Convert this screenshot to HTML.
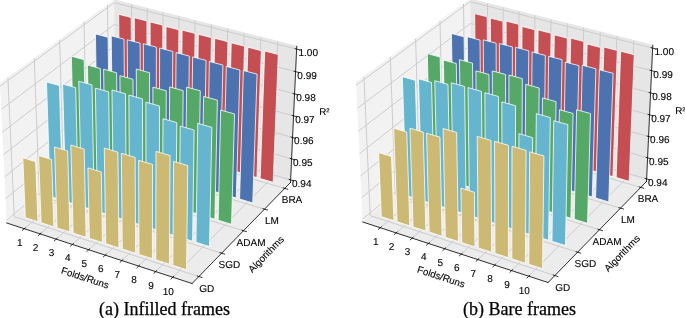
<!DOCTYPE html>
<html><head><meta charset="utf-8"><style>
html,body{margin:0;padding:0;background:#fff;width:685px;height:318px;overflow:hidden;position:relative}
.cap{position:absolute;will-change:transform;font-family:"Liberation Serif",serif;font-size:18px;color:#000;white-space:nowrap;line-height:1;-webkit-text-stroke:0.25px #000}
svg text{stroke:#000;stroke-width:0.12px}
</style></head><body>
<svg style="position:absolute;will-change:transform;text-rendering:geometricPrecision;left:-145.70px;top:-76.80px" width="571.294109" height="428.470582" viewBox="0 0 571.294109 428.470582" version="1.1">
 
 <defs>
  <style type="text/css">*{stroke-linejoin: round; stroke-linecap: butt}</style>
 </defs>
 <g id="afigure_1">
  <g id="apatch_1">
   <path d="M 0 428.470582 
L 571.294109 428.470582 
L 571.294109 0 
L 0 0 
L 0 428.470582 
z
" style="fill: none; opacity: 0"/>
  </g>
  <g id="apatch_2">
   <path d="M 127.827057 381.338818 
L 457.749405 381.338818 
L 457.749405 51.41647 
L 127.827057 51.41647 
L 127.827057 381.338818 
z
" style="fill: none; opacity: 0"/>
  </g>
  <g id="apane3d_1">
   <g id="apatch_3">
    <path d="M 152.738469 299.99054 
L 261.689603 208.665539 
L 260.175078 76.958562 
L 146.010071 160.270984 
" style="fill: #f2f2f2; stroke: #f2f2f2; stroke-linejoin: miter"/>
   </g>
  </g>
  <g id="apane3d_2">
   <g id="apatch_4">
    <path d="M 261.689603 208.665539 
L 436.517299 259.481048 
L 442.756284 123.237575 
L 260.175078 76.958562 
" style="fill: #e6e6e6; stroke: #e6e6e6; stroke-linejoin: miter"/>
   </g>
  </g>
  <g id="apane3d_3">
   <g id="apatch_5">
    <path d="M 152.738469 299.99054 
L 338.064366 360.517977 
L 436.517299 259.481048 
L 261.689603 208.665539 
" style="fill: #ececec; stroke: #ececec; stroke-linejoin: miter"/>
   </g>
  </g>
  <g id="agrid3d_1">
   <g id="aLine3DCollection_1">
    <path d="M 170.277975 305.718942 
L 278.3018 213.494049 
L 277.4909 81.347618 
" style="fill: none; stroke: #cccccc"/>
    <path d="M 186.168072 310.908648 
L 293.33979 217.864999 
L 293.171825 85.322275 
" style="fill: none; stroke: #cccccc"/>
    <path d="M 202.205661 316.146525 
L 308.505806 222.273161 
L 308.992014 89.332232 
" style="fill: none; stroke: #cccccc"/>
    <path d="M 218.392805 321.433246 
L 323.801489 226.719012 
L 324.953331 93.377961 
" style="fill: none; stroke: #cccccc"/>
    <path d="M 234.731604 326.769497 
L 339.228511 231.203038 
L 341.057673 97.459942 
" style="fill: none; stroke: #cccccc"/>
    <path d="M 251.2242 332.155979 
L 354.788568 235.725732 
L 357.306971 101.578665 
" style="fill: none; stroke: #cccccc"/>
    <path d="M 267.872776 337.593404 
L 370.483391 240.287598 
L 373.70319 105.734629 
" style="fill: none; stroke: #cccccc"/>
    <path d="M 284.679554 343.082498 
L 386.314737 244.889145 
L 390.248333 109.92834 
" style="fill: none; stroke: #cccccc"/>
    <path d="M 301.6468 348.624 
L 402.284396 249.530895 
L 406.944437 114.160316 
" style="fill: none; stroke: #cccccc"/>
    <path d="M 318.776823 354.218666 
L 418.394188 254.213375 
L 423.793579 118.431082 
" style="fill: none; stroke: #cccccc"/>
   </g>
  </g>
  <g id="agrid3d_2">
   <g id="aLine3DCollection_2">
    <path d="M 153.904864 154.509724 
L 160.246123 293.697475 
L 344.876547 353.527004 
" style="fill: none; stroke: #cccccc"/>
    <path d="M 180.280541 135.261956 
L 185.356977 272.649059 
L 367.631109 330.175225 
" style="fill: none; stroke: #cccccc"/>
    <path d="M 205.632131 116.76152 
L 209.534382 252.38308 
L 389.496058 307.736409 
" style="fill: none; stroke: #cccccc"/>
    <path d="M 230.018141 98.965721 
L 232.829436 232.856704 
L 410.522564 286.158042 
" style="fill: none; stroke: #cccccc"/>
    <path d="M 253.492705 81.835054 
L 255.289575 214.030169 
L 430.757946 265.391562 
" style="fill: none; stroke: #cccccc"/>
   </g>
  </g>
  <g id="agrid3d_3">
   <g id="aLine3DCollection_3">
    <path d="M 436.636832 256.870774 
L 261.660527 206.136949 
L 152.609774 297.318091 
" style="fill: none; stroke: #cccccc"/>
    <path d="M 437.600525 235.826161 
L 261.426189 185.758368 
L 151.571897 275.76591 
" style="fill: none; stroke: #cccccc"/>
    <path d="M 438.577637 214.488533 
L 261.188745 165.109619 
L 150.519018 253.902188 
" style="fill: none; stroke: #cccccc"/>
    <path d="M 439.56845 192.851727 
L 260.948132 144.185294 
L 149.450808 231.720121 
" style="fill: none; stroke: #cccccc"/>
    <path d="M 440.573252 170.909405 
L 260.704286 122.979838 
L 148.36693 209.212704 
" style="fill: none; stroke: #cccccc"/>
    <path d="M 441.592344 148.655052 
L 260.457142 101.487548 
L 147.267038 186.372726 
" style="fill: none; stroke: #cccccc"/>
    <path d="M 442.626031 126.081964 
L 260.206632 79.702563 
L 146.150773 163.192763 
" style="fill: none; stroke: #cccccc"/>
   </g>
  </g>
  <g id="aaxis3d_1">
   <g id="aline2d_1">
    <path d="M 152.738469 299.99054 
L 338.064366 360.517977 
" style="fill: none; stroke: #000000; stroke-width: 0.8; stroke-linecap: square"/>
   </g>
   <g id="axtick_1">
    <g id="aline2d_2">
     <path d="M 171.218781 304.915733 
L 168.392318 307.328814 
" style="fill: none; stroke: #000000; stroke-width: 0.8; stroke-linecap: square"/>
    </g>
    <g id="axtl0">
     <text style="font-size: 10px; font-family: 'Liberation Sans'; text-anchor: middle" x="165.706827" y="322.53215" transform="rotate(-0 165.706827 322.53215)">1</text>
    </g>
   </g>
   <g id="axtick_2">
    <g id="aline2d_3">
     <path d="M 187.101808 310.098004 
L 184.296569 312.533438 
" style="fill: none; stroke: #000000; stroke-width: 0.8; stroke-linecap: square"/>
    </g>
    <g id="axtl1">
     <text style="font-size: 10px; font-family: 'Liberation Sans'; text-anchor: middle" x="181.604902" y="327.775644" transform="rotate(-0 181.604902 327.775644)">2</text>
    </g>
   </g>
   <g id="axtick_3">
    <g id="aline2d_4">
     <path d="M 203.132155 315.328341 
L 200.348655 317.786442 
" style="fill: none; stroke: #000000; stroke-width: 0.8; stroke-linecap: square"/>
    </g>
    <g id="axtl2">
     <text style="font-size: 10px; font-family: 'Liberation Sans'; text-anchor: middle" x="197.650815" y="333.067898" transform="rotate(-0 197.650815 333.067898)">3</text>
    </g>
   </g>
   <g id="axtick_4">
    <g id="aline2d_5">
     <path d="M 219.31188 320.607417 
L 216.550648 323.088502 
" style="fill: none; stroke: #000000; stroke-width: 0.8; stroke-linecap: square"/>
    </g>
    <g id="axtl3">
     <text style="font-size: 10px; font-family: 'Liberation Sans'; text-anchor: middle" x="213.846636" y="338.409594" transform="rotate(-0 213.846636 338.409594)">4</text>
    </g>
   </g>
   <g id="axtick_5">
    <g id="aline2d_6">
     <path d="M 235.643081 325.935917 
L 232.904658 328.44031 
" style="fill: none; stroke: #000000; stroke-width: 0.8; stroke-linecap: square"/>
    </g>
    <g id="axtl4">
     <text style="font-size: 10px; font-family: 'Liberation Sans'; text-anchor: middle" x="230.194477" y="343.801429" transform="rotate(-0 230.194477 343.801429)">5</text>
    </g>
   </g>
   <g id="axtick_6">
    <g id="aline2d_7">
     <path d="M 252.127895 331.314536 
L 249.412834 333.842568 
" style="fill: none; stroke: #000000; stroke-width: 0.8; stroke-linecap: square"/>
    </g>
    <g id="axtl5">
     <text style="font-size: 10px; font-family: 'Liberation Sans'; text-anchor: middle" x="246.696487" y="349.244112" transform="rotate(-0 246.696487 349.244112)">6</text>
    </g>
   </g>
   <g id="axtick_7">
    <g id="aline2d_8">
     <path d="M 268.7685 336.743987 
L 266.077367 339.295993 
" style="fill: none; stroke: #000000; stroke-width: 0.8; stroke-linecap: square"/>
    </g>
    <g id="axtl6">
     <text style="font-size: 10px; font-family: 'Liberation Sans'; text-anchor: middle" x="263.354859" y="354.738366" transform="rotate(-0 263.354859 354.738366)">7</text>
    </g>
   </g>
   <g id="axtick_8">
    <g id="aline2d_9">
     <path d="M 285.567115 342.224993 
L 282.900488 344.801316 
" style="fill: none; stroke: #000000; stroke-width: 0.8; stroke-linecap: square"/>
    </g>
    <g id="axtl7">
     <text style="font-size: 10px; font-family: 'Liberation Sans'; text-anchor: middle" x="280.171825" y="360.284928" transform="rotate(-0 280.171825 360.284928)">8</text>
    </g>
   </g>
   <g id="axtick_9">
    <g id="aline2d_10">
     <path d="M 302.526001 347.758292 
L 299.884473 350.359281 
" style="fill: none; stroke: #000000; stroke-width: 0.8; stroke-linecap: square"/>
    </g>
    <g id="axtl8">
     <text style="font-size: 10px; font-family: 'Liberation Sans'; text-anchor: middle" x="297.14966" y="365.884547" transform="rotate(-0 297.14966 365.884547)">9</text>
    </g>
   </g>
   <g id="axtick_10">
    <g id="aline2d_11">
     <path d="M 319.647463 353.344636 
L 317.031639 355.970646 
" style="fill: none; stroke: #000000; stroke-width: 0.8; stroke-linecap: square"/>
    </g>
    <g id="axtl9">
     <text style="font-size: 10px; font-family: 'Liberation Sans'; text-anchor: middle" x="314.290684" y="371.53799" transform="rotate(-0 314.290684 371.53799)">10</text>
    </g>
   </g>
   <g id="axlab">
    <text style="font-size: 9.8px; font-family: 'Liberation Sans'; text-anchor: middle" x="230.091044" y="358.020936" transform="rotate(-341.912962 230.091044 358.020936)">Folds/Runs</text>
   </g>
  </g>
  <g id="aaxis3d_2">
   <g id="aline2d_12">
    <path d="M 436.517299 259.481048 
L 338.064366 360.517977 
" style="fill: none; stroke: #000000; stroke-width: 0.8; stroke-linecap: square"/>
   </g>
   <g id="axtick_11">
    <g id="aline2d_13">
     <path d="M 343.320661 353.022819 
L 347.992343 354.536678 
" style="fill: none; stroke: #000000; stroke-width: 0.8; stroke-linecap: square"/>
    </g>
    <g id="aytl0">
     <text style="font-size: 10px; font-family: 'Liberation Sans'; text-anchor: middle" x="352.714544" y="368.942089" transform="rotate(-0 352.714544 368.942089)">GD</text>
    </g>
   </g>
   <g id="axtick_12">
    <g id="aline2d_14">
     <path d="M 366.096631 329.69094 
L 370.703955 331.145023 
" style="fill: none; stroke: #000000; stroke-width: 0.8; stroke-linecap: square"/>
    </g>
    <g id="aytl1">
     <text style="font-size: 10px; font-family: 'Liberation Sans'; text-anchor: middle" x="375.319343" y="345.420682" transform="rotate(-0 375.319343 345.420682)">SGD</text>
    </g>
   </g>
   <g id="axtick_13">
    <g id="aline2d_15">
     <path d="M 387.982519 307.270869 
L 392.526897 308.668647 
" style="fill: none; stroke: #000000; stroke-width: 0.8; stroke-linecap: square"/>
    </g>
    <g id="aytl2">
     <text style="font-size: 10px; font-family: 'Liberation Sans'; text-anchor: middle" x="397.040134" y="322.819129" transform="rotate(-0 397.040134 322.819129)">ADAM</text>
    </g>
   </g>
   <g id="axtick_14">
    <g id="aline2d_16">
     <path d="M 409.029501 285.710179 
L 413.512328 287.05486 
" style="fill: none; stroke: #000000; stroke-width: 0.8; stroke-linecap: square"/>
    </g>
    <g id="aytl3">
     <text style="font-size: 10px; font-family: 'Liberation Sans'; text-anchor: middle" x="417.927779" y="301.084504" transform="rotate(-0 417.927779 301.084504)">LM</text>
    </g>
   </g>
   <g id="axtick_15">
    <g id="aline2d_17">
     <path d="M 429.284905 264.960388 
L 433.70755 266.254941 
" style="fill: none; stroke: #000000; stroke-width: 0.8; stroke-linecap: square"/>
    </g>
    <g id="aytl4">
     <text style="font-size: 10px; font-family: 'Liberation Sans'; text-anchor: middle" x="438.029312" y="280.167869" transform="rotate(-0 438.029312 280.167869)">BRA</text>
    </g>
   </g>
   <g id="aylab">
    <text style="font-size: 9.8px; font-family: 'Liberation Sans'; text-anchor: middle" x="414.495733" y="333.586335" transform="rotate(-45.742112 414.495733 333.586335)">Algorithms</text>
   </g>
  </g>
  <g id="aaxis3d_3">
   <g id="aline2d_18">
    <path d="M 436.517299 259.481048 
L 442.756284 123.237575 
" style="fill: none; stroke: #000000; stroke-width: 0.8; stroke-linecap: square"/>
   </g>
   <g id="axtick_16">
    <g id="aline2d_19">
     <path d="M 435.168239 256.44496 
L 439.577512 257.723415 
" style="fill: none; stroke: #000000; stroke-width: 0.8; stroke-linecap: square"/>
    </g>
    <g id="aztl0" transform="translate(0 1.2)">
     <text style="font-size: 10px; font-family: 'Liberation Sans'; text-anchor: middle" x="447.771035" y="262.532065" transform="rotate(-0 447.771035 262.532065)">0.94</text>
    </g>
   </g>
   <g id="axtick_17">
    <g id="aline2d_20">
     <path d="M 436.1214 235.405802 
L 440.562323 236.667888 
" style="fill: none; stroke: #000000; stroke-width: 0.8; stroke-linecap: square"/>
    </g>
    <g id="aztl1" transform="translate(0 1.2)">
     <text style="font-size: 10px; font-family: 'Liberation Sans'; text-anchor: middle" x="448.810161" y="241.507773" transform="rotate(-0 448.810161 241.507773)">0.95</text>
    </g>
   </g>
   <g id="axtick_18">
    <g id="aline2d_21">
     <path d="M 437.087826 214.073821 
L 441.560857 215.318958 
" style="fill: none; stroke: #000000; stroke-width: 0.8; stroke-linecap: square"/>
    </g>
    <g id="aztl2" transform="translate(0 1.2)">
     <text style="font-size: 10px; font-family: 'Liberation Sans'; text-anchor: middle" x="449.863733" y="220.191187" transform="rotate(-0 449.863733 220.191187)">0.96</text>
    </g>
   </g>
   <g id="axtick_19">
    <g id="aline2d_22">
     <path d="M 438.067797 192.442863 
L 442.573402 193.670448 
" style="fill: none; stroke: #000000; stroke-width: 0.8; stroke-linecap: square"/>
    </g>
    <g id="aztl3" transform="translate(0 1.2)">
     <text style="font-size: 10px; font-family: 'Liberation Sans'; text-anchor: middle" x="450.932056" y="198.576167" transform="rotate(-0 450.932056 198.576167)">0.97</text>
    </g>
   </g>
   <g id="axtick_20">
    <g id="aline2d_23">
     <path d="M 439.0616 170.506596 
L 443.600257 171.71601 
" style="fill: none; stroke: #000000; stroke-width: 0.8; stroke-linecap: square"/>
    </g>
    <g id="aztl4" transform="translate(0 1.2)">
     <text style="font-size: 10px; font-family: 'Liberation Sans'; text-anchor: middle" x="452.01544" y="176.656403" transform="rotate(-0 452.01544 176.656403)">0.98</text>
    </g>
   </g>
   <g id="axtick_21">
    <g id="aline2d_24">
     <path d="M 440.069529 148.258512 
L 444.641727 149.44911 
" style="fill: none; stroke: #000000; stroke-width: 0.8; stroke-linecap: square"/>
    </g>
    <g id="aztl5" transform="translate(0 1.2)">
     <text style="font-size: 10px; font-family: 'Liberation Sans'; text-anchor: middle" x="453.114207" y="154.425405" transform="rotate(-0 453.114207 154.425405)">0.99</text>
    </g>
   </g>
   <g id="axtick_22">
    <g id="aline2d_25">
     <path d="M 441.091888 125.691914 
L 445.698125 126.863031 
" style="fill: none; stroke: #000000; stroke-width: 0.8; stroke-linecap: square"/>
    </g>
    <g id="aztl6" transform="translate(0 1.2)">
     <text style="font-size: 10px; font-family: 'Liberation Sans'; text-anchor: middle" x="454.228687" y="131.876495" transform="rotate(-0 454.228687 131.876495)">1.00</text>
    </g>
   </g>
   <g id="azlab" transform="translate(0 1.0)">
    <text style="font-size: 9.8px; font-family: 'Liberation Sans'; text-anchor: middle" x="470.33307" y="191.264268" transform="rotate(-0 470.33307 191.264268)">R²</text>
   </g>
  </g>
  <g id="aaxes_1">
   <g id="apatch_6">
    <path d="M 265.932633 214.610533 
L 277.96352 218.123471 
L 277.190281 94.510612 
L 264.681394 91.293279 
L 265.932633 214.610533 
" clip-path="url(#apff52f24044)" style="fill: #c44e52; stroke: #ffffff; stroke-width: 0.8; stroke-linejoin: miter"/>
   </g>
   <g id="apatch_7">
    <path d="M 280.984046 219.005444 
L 293.117765 222.548408 
L 292.950633 97.944348 
L 280.328087 94.699978 
L 280.984046 219.005444 
" clip-path="url(#apff52f24044)" style="fill: #c44e52; stroke: #ffffff; stroke-width: 0.8; stroke-linejoin: miter"/>
   </g>
   <g id="apatch_8">
    <path d="M 296.164165 223.437936 
L 308.402041 227.011313 
L 308.855131 102.165722 
L 296.120355 98.892031 
L 296.164165 223.437936 
" clip-path="url(#apff52f24044)" style="fill: #c44e52; stroke: #ffffff; stroke-width: 0.8; stroke-linejoin: miter"/>
   </g>
   <g id="apatch_9">
    <path d="M 311.474647 227.908493 
L 323.818026 231.512677 
L 324.897658 106.803458 
L 312.050684 103.499089 
L 311.474647 227.908493 
" clip-path="url(#apff52f24044)" style="fill: #c44e52; stroke: #ffffff; stroke-width: 0.8; stroke-linejoin: miter"/>
   </g>
   <g id="apatch_10">
    <path d="M 326.917178 232.417608 
L 339.367432 236.052998 
L 341.093941 110.430815 
L 328.128991 107.098035 
L 326.917178 232.417608 
" clip-path="url(#apff52f24044)" style="fill: #c44e52; stroke: #ffffff; stroke-width: 0.8; stroke-linejoin: miter"/>
   </g>
   <g id="apatch_11">
    <path d="M 243.579321 233.521583 
L 255.753899 237.164634 
L 254.08912 114.245046 
L 241.433805 110.897833 
L 243.579321 233.521583 
" clip-path="url(#apff52f24044)" style="fill: #4c72b0; stroke: #ffffff; stroke-width: 0.8; stroke-linejoin: miter"/>
   </g>
   <g id="apatch_12">
    <path d="M 342.493476 236.965782 
L 355.051998 240.632785 
L 357.431706 114.653155 
L 344.349462 111.290142 
L 342.493476 236.965782 
" clip-path="url(#apff52f24044)" style="fill: #c44e52; stroke: #ffffff; stroke-width: 0.8; stroke-linejoin: miter"/>
   </g>
   <g id="apatch_13">
    <path d="M 258.81074 238.079345 
L 271.091302 241.75411 
L 270.017584 116.17555 
L 257.238582 112.803864 
L 258.81074 238.079345 
" clip-path="url(#apff52f24044)" style="fill: #4c72b0; stroke: #ffffff; stroke-width: 0.8; stroke-linejoin: miter"/>
   </g>
   <g id="apatch_14">
    <path d="M 358.205285 241.553524 
L 370.873493 245.252555 
L 373.923194 118.68876 
L 360.721106 115.295677 
L 358.205285 241.553524 
" clip-path="url(#apff52f24044)" style="fill: #c44e52; stroke: #ffffff; stroke-width: 0.8; stroke-linejoin: miter"/>
   </g>
   <g id="apatch_15">
    <path d="M 274.174811 242.676801 
L 286.562746 246.383695 
L 286.121372 120.199503 
L 273.225123 116.797697 
L 274.174811 242.676801 
" clip-path="url(#apff52f24044)" style="fill: #4c72b0; stroke: #ffffff; stroke-width: 0.8; stroke-linejoin: miter"/>
   </g>
   <g id="apatch_16">
    <path d="M 374.054382 246.181353 
L 386.833719 249.912833 
L 390.553499 123.235917 
L 377.231938 119.811135 
L 374.054382 246.181353 
" clip-path="url(#apff52f24044)" style="fill: #c44e52; stroke: #ffffff; stroke-width: 0.8; stroke-linejoin: miter"/>
   </g>
   <g id="apatch_17">
    <path d="M 289.673274 247.314472 
L 302.169996 251.053919 
L 302.374903 124.125246 
L 289.359223 120.693255 
L 289.673274 247.314472 
" clip-path="url(#apff52f24044)" style="fill: #4c72b0; stroke: #ffffff; stroke-width: 0.8; stroke-linejoin: miter"/>
   </g>
   <g id="apatch_18">
    <path d="M 390.042573 250.849797 
L 402.934509 254.614155 
L 407.339017 127.665484 
L 393.895674 124.208976 
L 390.042573 250.849797 
" clip-path="url(#apff52f24044)" style="fill: #c44e52; stroke: #ffffff; stroke-width: 0.8; stroke-linejoin: miter"/>
   </g>
   <g id="apatch_19">
    <path d="M 220.391743 253.138426 
L 232.712451 256.918955 
L 230.163346 136.685596 
L 217.36707 133.195909 
L 220.391743 253.138426 
" clip-path="url(#apff52f24044)" style="fill: #55a868; stroke: #ffffff; stroke-width: 0.8; stroke-linejoin: miter"/>
   </g>
   <g id="apatch_20">
    <path d="M 305.3079 251.992887 
L 317.914849 255.765318 
L 318.778845 128.473368 
L 305.643653 125.009781 
L 305.3079 251.992887 
" clip-path="url(#apff52f24044)" style="fill: #4c72b0; stroke: #ffffff; stroke-width: 0.8; stroke-linejoin: miter"/>
   </g>
   <g id="apatch_21">
    <path d="M 235.806232 257.868262 
L 248.236213 261.682321 
L 246.363255 145.541029 
L 233.466868 142.007763 
L 235.806232 257.868262 
" clip-path="url(#apff52f24044)" style="fill: #55a868; stroke: #ffffff; stroke-width: 0.8; stroke-linejoin: miter"/>
   </g>
   <g id="apatch_22">
    <path d="M 406.171698 255.559392 
L 419.177727 259.357065 
L 424.304447 131.476567 
L 410.734741 127.989593 
L 406.171698 255.559392 
" clip-path="url(#apff52f24044)" style="fill: #c44e52; stroke: #ffffff; stroke-width: 0.8; stroke-linejoin: miter"/>
   </g>
   <g id="apatch_23">
    <path d="M 321.080492 256.712587 
L 333.799131 260.518439 
L 335.331184 133.088952 
L 322.075785 129.592745 
L 321.080492 256.712587 
" clip-path="url(#apff52f24044)" style="fill: #4c72b0; stroke: #ffffff; stroke-width: 0.8; stroke-linejoin: miter"/>
   </g>
   <g id="apatch_24">
    <path d="M 251.357495 262.640066 
L 263.898209 266.488102 
L 262.615398 149.767692 
L 249.598787 146.202321 
L 251.357495 262.640066 
" clip-path="url(#apff52f24044)" style="fill: #55a868; stroke: #ffffff; stroke-width: 0.8; stroke-linejoin: miter"/>
   </g>
   <g id="apatch_25">
    <path d="M 336.992883 261.474119 
L 349.824705 265.313839 
L 352.039848 137.427233 
L 338.661228 133.898779 
L 336.992883 261.474119 
" clip-path="url(#apff52f24044)" style="fill: #4c72b0; stroke: #ffffff; stroke-width: 0.8; stroke-linejoin: miter"/>
   </g>
   <g id="apatch_26">
    <path d="M 267.047359 267.454398 
L 279.700293 271.336869 
L 279.034051 156.307087 
L 265.904922 152.703341 
L 267.047359 267.454398 
" clip-path="url(#apff52f24044)" style="fill: #55a868; stroke: #ffffff; stroke-width: 0.8; stroke-linejoin: miter"/>
   </g>
   <g id="apatch_27">
    <path d="M 353.04694 266.278043 
L 365.993462 270.152085 
L 368.899138 142.057855 
L 355.396662 138.496052 
L 353.04694 266.278043 
" clip-path="url(#apff52f24044)" style="fill: #4c72b0; stroke: #ffffff; stroke-width: 0.8; stroke-linejoin: miter"/>
   </g>
   <g id="apatch_28">
    <path d="M 196.322308 273.501327 
L 208.791549 277.427265 
L 205.430716 162.55498 
L 192.501976 158.907825 
L 196.322308 273.501327 
" clip-path="url(#apff52f24044)" style="fill: #64b5cd; stroke: #ffffff; stroke-width: 0.8; stroke-linejoin: miter"/>
   </g>
   <g id="apatch_29">
    <path d="M 171.319733 294.65367 
L 183.939864 298.733572 
L 181.671741 238.639665 
L 168.808382 234.702383 
L 171.319733 294.65367 
" clip-path="url(#apff52f24044)" style="fill: #ccb974; stroke: #ffffff; stroke-width: 0.8; stroke-linejoin: miter"/>
   </g>
   <g id="apatch_30">
    <path d="M 369.244565 271.124926 
L 382.307331 275.033753 
L 385.906447 147.006709 
L 372.279608 143.410377 
L 369.244565 271.124926 
" clip-path="url(#apff52f24044)" style="fill: #4c72b0; stroke: #ffffff; stroke-width: 0.8; stroke-linejoin: miter"/>
   </g>
   <g id="apatch_31">
    <path d="M 282.877686 272.311831 
L 295.644352 276.2292 
L 295.57733 149.713909 
L 282.278885 146.10522 
L 282.877686 272.311831 
" clip-path="url(#apff52f24044)" style="fill: #55a868; stroke: #ffffff; stroke-width: 0.8; stroke-linejoin: miter"/>
   </g>
   <g id="apatch_32">
    <path d="M 298.85037 277.212946 
L 311.73231 281.165685 
L 312.276205 167.787299 
L 298.910361 164.109787 
L 298.85037 277.212946 
" clip-path="url(#apff52f24044)" style="fill: #55a868; stroke: #ffffff; stroke-width: 0.8; stroke-linejoin: miter"/>
   </g>
   <g id="apatch_33">
    <path d="M 211.922891 278.413168 
L 224.504844 282.374594 
L 221.668507 164.68076 
L 208.608406 161.005731 
L 211.922891 278.413168 
" clip-path="url(#apff52f24044)" style="fill: #64b5cd; stroke: #ffffff; stroke-width: 0.8; stroke-linejoin: miter"/>
   </g>
   <g id="apatch_34">
    <path d="M 385.587691 276.015349 
L 398.768275 279.959431 
L 403.098008 151.125611 
L 389.341181 147.496539 
L 385.587691 276.015349 
" clip-path="url(#apff52f24044)" style="fill: #4c72b0; stroke: #ffffff; stroke-width: 0.8; stroke-linejoin: miter"/>
   </g>
   <g id="apatch_35">
    <path d="M 187.109375 299.758228 
L 199.845813 303.87573 
L 197.657588 236.546369 
L 184.644299 232.589419 
L 187.109375 299.758228 
" clip-path="url(#apff52f24044)" style="fill: #ccb974; stroke: #ffffff; stroke-width: 0.8; stroke-linejoin: miter"/>
   </g>
   <g id="apatch_36">
    <path d="M 314.967341 282.158334 
L 327.966123 286.146925 
L 329.174051 167.607227 
L 315.661525 163.907491 
L 314.967341 282.158334 
" clip-path="url(#apff52f24044)" style="fill: #55a868; stroke: #ffffff; stroke-width: 0.8; stroke-linejoin: miter"/>
   </g>
   <g id="apatch_37">
    <path d="M 227.664554 283.369428 
L 240.360754 287.366825 
L 237.992206 161.897188 
L 224.778292 158.206669 
L 227.664554 283.369428 
" clip-path="url(#apff52f24044)" style="fill: #64b5cd; stroke: #ffffff; stroke-width: 0.8; stroke-linejoin: miter"/>
   </g>
   <g id="apatch_38">
    <path d="M 331.230563 287.148598 
L 344.347784 291.173531 
L 346.278324 167.817778 
L 332.618204 164.094527 
L 331.230563 287.148598 
" clip-path="url(#apff52f24044)" style="fill: #55a868; stroke: #ffffff; stroke-width: 0.8; stroke-linejoin: miter"/>
   </g>
   <g id="apatch_39">
    <path d="M 243.549221 288.370713 
L 256.36123 292.404572 
L 254.681947 168.841133 
L 241.352053 165.109587 
L 243.549221 288.370713 
" clip-path="url(#apff52f24044)" style="fill: #64b5cd; stroke: #ffffff; stroke-width: 0.8; stroke-linejoin: miter"/>
   </g>
   <g id="apatch_40">
    <path d="M 203.044601 304.909851 
L 215.89896 309.065475 
L 213.693661 227.961 
L 200.500499 224.000344 
L 203.044601 304.909851 
" clip-path="url(#apff52f24044)" style="fill: #ccb974; stroke: #ffffff; stroke-width: 0.8; stroke-linejoin: miter"/>
   </g>
   <g id="apatch_41">
    <path d="M 347.642035 292.184351 
L 360.879321 296.246126 
L 363.401319 177.16467 
L 349.631821 173.393869 
L 347.642035 292.184351 
" clip-path="url(#apff52f24044)" style="fill: #55a868; stroke: #ffffff; stroke-width: 0.8; stroke-linejoin: miter"/>
   </g>
   <g id="apatch_42">
    <path d="M 364.203794 297.266219 
L 377.5628 301.365343 
L 380.519768 190.936499 
L 366.659568 187.106365 
L 364.203794 297.266219 
" clip-path="url(#apff52f24044)" style="fill: #55a868; stroke: #ffffff; stroke-width: 0.8; stroke-linejoin: miter"/>
   </g>
   <g id="apatch_43">
    <path d="M 259.578847 293.417639 
L 272.508258 297.488462 
L 271.46438 170.758701 
L 257.995436 166.998806 
L 259.578847 293.417639 
" clip-path="url(#apff52f24044)" style="fill: #64b5cd; stroke: #ffffff; stroke-width: 0.8; stroke-linejoin: miter"/>
   </g>
   <g id="apatch_44">
    <path d="M 235.359932 315.356919 
L 248.4551 319.590394 
L 247.299055 248.955017 
L 233.899203 244.890758 
L 235.359932 315.356919 
" clip-path="url(#apff52f24044)" style="fill: #ccb974; stroke: #ffffff; stroke-width: 0.8; stroke-linejoin: miter"/>
   </g>
   <g id="apatch_45">
    <path d="M 219.127433 310.109193 
L 232.101359 314.303471 
L 230.176866 226.077825 
L 216.828472 222.096624 
L 219.127433 310.109193 
" clip-path="url(#apff52f24044)" style="fill: #ccb974; stroke: #ffffff; stroke-width: 0.8; stroke-linejoin: miter"/>
   </g>
   <g id="apatch_46">
    <path d="M 275.755428 298.510833 
L 288.803862 302.61913 
L 288.447012 175.895546 
L 274.850532 172.098536 
L 275.755428 298.510833 
" clip-path="url(#apff52f24044)" style="fill: #64b5cd; stroke: #ffffff; stroke-width: 0.8; stroke-linejoin: miter"/>
   </g>
   <g id="apatch_47">
    <path d="M 292.080992 303.650934 
L 305.2501 307.797226 
L 305.583699 183.043726 
L 291.866505 179.20394 
L 292.080992 303.650934 
" clip-path="url(#apff52f24044)" style="fill: #64b5cd; stroke: #ffffff; stroke-width: 0.8; stroke-linejoin: miter"/>
   </g>
   <g id="apatch_48">
    <path d="M 308.557608 308.838594 
L 321.849073 313.02341 
L 322.783009 199.604171 
L 308.985336 195.696742 
L 308.557608 308.838594 
" clip-path="url(#apff52f24044)" style="fill: #64b5cd; stroke: #ffffff; stroke-width: 0.8; stroke-linejoin: miter"/>
   </g>
   <g id="apatch_49">
    <path d="M 325.187382 314.074476 
L 338.602916 318.298355 
L 340.145537 207.048851 
L 326.225575 203.097043 
L 325.187382 314.074476 
" clip-path="url(#apff52f24044)" style="fill: #64b5cd; stroke: #ffffff; stroke-width: 0.8; stroke-linejoin: miter"/>
   </g>
   <g id="apatch_50">
    <path d="M 251.744197 320.65371 
L 264.962316 324.926932 
L 263.923201 229.144579 
L 250.285292 225.10404 
L 251.744197 320.65371 
" clip-path="url(#apff52f24044)" style="fill: #ccb974; stroke: #ffffff; stroke-width: 0.8; stroke-linejoin: miter"/>
   </g>
   <g id="apatch_51">
    <path d="M 268.282366 326.000256 
L 281.625175 330.313788 
L 281.120663 234.378825 
L 267.350561 230.298581 
L 268.282366 326.000256 
" clip-path="url(#apff52f24044)" style="fill: #ccb974; stroke: #ffffff; stroke-width: 0.8; stroke-linejoin: miter"/>
   </g>
   <g id="apatch_52">
    <path d="M 341.97246 319.359256 
L 355.513808 323.622747 
L 357.84772 204.370998 
L 343.757009 200.40064 
L 341.97246 319.359256 
" clip-path="url(#apff52f24044)" style="fill: #64b5cd; stroke: #ffffff; stroke-width: 0.8; stroke-linejoin: miter"/>
   </g>
   <g id="apatch_53">
    <path d="M 284.976618 331.39726 
L 298.44589 335.751677 
L 298.484038 241.432977 
L 284.587826 237.307929 
L 284.976618 331.39726 
" clip-path="url(#apff52f24044)" style="fill: #ccb974; stroke: #ffffff; stroke-width: 0.8; stroke-linejoin: miter"/>
   </g>
   <g id="apatch_54">
    <path d="M 301.829173 336.845442 
L 315.426714 341.241326 
L 316.094576 232.519329 
L 301.996854 228.390065 
L 301.829173 336.845442 
" clip-path="url(#apff52f24044)" style="fill: #ccb974; stroke: #ffffff; stroke-width: 0.8; stroke-linejoin: miter"/>
   </g>
   <g id="apatch_55">
    <path d="M 318.842293 342.345533 
L 332.569945 346.783479 
L 333.815892 242.587598 
L 319.601024 238.404779 
L 318.842293 342.345533 
" clip-path="url(#apff52f24044)" style="fill: #ccb974; stroke: #ffffff; stroke-width: 0.8; stroke-linejoin: miter"/>
   </g>
  </g>
 </g>
 <defs>
  <clipPath id="apff52f24044">
   <rect x="127.827057" y="51.41647" width="329.922348" height="329.922348"/>
  </clipPath>
 </defs>
</svg>

<svg style="position:absolute;will-change:transform;text-rendering:geometricPrecision;left:210.30px;top:-78.30px" width="571.294109" height="428.470582" viewBox="0 0 571.294109 428.470582" version="1.1">
 
 <defs>
  <style type="text/css">*{stroke-linejoin: round; stroke-linecap: butt}</style>
 </defs>
 <g id="bfigure_1">
  <g id="bpatch_1">
   <path d="M 0 428.470582 
L 571.294109 428.470582 
L 571.294109 0 
L 0 0 
L 0 428.470582 
z
" style="fill: none; opacity: 0"/>
  </g>
  <g id="bpatch_2">
   <path d="M 127.827057 381.338818 
L 457.749405 381.338818 
L 457.749405 51.41647 
L 127.827057 51.41647 
L 127.827057 381.338818 
z
" style="fill: none; opacity: 0"/>
  </g>
  <g id="bpane3d_1">
   <g id="bpatch_3">
    <path d="M 152.738469 299.99054 
L 261.689603 208.665539 
L 260.175078 76.958562 
L 146.010071 160.270984 
" style="fill: #f2f2f2; stroke: #f2f2f2; stroke-linejoin: miter"/>
   </g>
  </g>
  <g id="bpane3d_2">
   <g id="bpatch_4">
    <path d="M 261.689603 208.665539 
L 436.517299 259.481048 
L 442.756284 123.237575 
L 260.175078 76.958562 
" style="fill: #e6e6e6; stroke: #e6e6e6; stroke-linejoin: miter"/>
   </g>
  </g>
  <g id="bpane3d_3">
   <g id="bpatch_5">
    <path d="M 152.738469 299.99054 
L 338.064366 360.517977 
L 436.517299 259.481048 
L 261.689603 208.665539 
" style="fill: #ececec; stroke: #ececec; stroke-linejoin: miter"/>
   </g>
  </g>
  <g id="bgrid3d_1">
   <g id="bLine3DCollection_1">
    <path d="M 170.277975 305.718942 
L 278.3018 213.494049 
L 277.4909 81.347618 
" style="fill: none; stroke: #cccccc"/>
    <path d="M 186.168072 310.908648 
L 293.33979 217.864999 
L 293.171825 85.322275 
" style="fill: none; stroke: #cccccc"/>
    <path d="M 202.205661 316.146525 
L 308.505806 222.273161 
L 308.992014 89.332232 
" style="fill: none; stroke: #cccccc"/>
    <path d="M 218.392805 321.433246 
L 323.801489 226.719012 
L 324.953331 93.377961 
" style="fill: none; stroke: #cccccc"/>
    <path d="M 234.731604 326.769497 
L 339.228511 231.203038 
L 341.057673 97.459942 
" style="fill: none; stroke: #cccccc"/>
    <path d="M 251.2242 332.155979 
L 354.788568 235.725732 
L 357.306971 101.578665 
" style="fill: none; stroke: #cccccc"/>
    <path d="M 267.872776 337.593404 
L 370.483391 240.287598 
L 373.70319 105.734629 
" style="fill: none; stroke: #cccccc"/>
    <path d="M 284.679554 343.082498 
L 386.314737 244.889145 
L 390.248333 109.92834 
" style="fill: none; stroke: #cccccc"/>
    <path d="M 301.6468 348.624 
L 402.284396 249.530895 
L 406.944437 114.160316 
" style="fill: none; stroke: #cccccc"/>
    <path d="M 318.776823 354.218666 
L 418.394188 254.213375 
L 423.793579 118.431082 
" style="fill: none; stroke: #cccccc"/>
   </g>
  </g>
  <g id="bgrid3d_2">
   <g id="bLine3DCollection_2">
    <path d="M 153.904864 154.509724 
L 160.246123 293.697475 
L 344.876547 353.527004 
" style="fill: none; stroke: #cccccc"/>
    <path d="M 180.280541 135.261956 
L 185.356977 272.649059 
L 367.631109 330.175225 
" style="fill: none; stroke: #cccccc"/>
    <path d="M 205.632131 116.76152 
L 209.534382 252.38308 
L 389.496058 307.736409 
" style="fill: none; stroke: #cccccc"/>
    <path d="M 230.018141 98.965721 
L 232.829436 232.856704 
L 410.522564 286.158042 
" style="fill: none; stroke: #cccccc"/>
    <path d="M 253.492705 81.835054 
L 255.289575 214.030169 
L 430.757946 265.391562 
" style="fill: none; stroke: #cccccc"/>
   </g>
  </g>
  <g id="bgrid3d_3">
   <g id="bLine3DCollection_3">
    <path d="M 436.636832 256.870774 
L 261.660527 206.136949 
L 152.609774 297.318091 
" style="fill: none; stroke: #cccccc"/>
    <path d="M 437.600525 235.826161 
L 261.426189 185.758368 
L 151.571897 275.76591 
" style="fill: none; stroke: #cccccc"/>
    <path d="M 438.577637 214.488533 
L 261.188745 165.109619 
L 150.519018 253.902188 
" style="fill: none; stroke: #cccccc"/>
    <path d="M 439.56845 192.851727 
L 260.948132 144.185294 
L 149.450808 231.720121 
" style="fill: none; stroke: #cccccc"/>
    <path d="M 440.573252 170.909405 
L 260.704286 122.979838 
L 148.36693 209.212704 
" style="fill: none; stroke: #cccccc"/>
    <path d="M 441.592344 148.655052 
L 260.457142 101.487548 
L 147.267038 186.372726 
" style="fill: none; stroke: #cccccc"/>
    <path d="M 442.626031 126.081964 
L 260.206632 79.702563 
L 146.150773 163.192763 
" style="fill: none; stroke: #cccccc"/>
   </g>
  </g>
  <g id="baxis3d_1">
   <g id="bline2d_1">
    <path d="M 152.738469 299.99054 
L 338.064366 360.517977 
" style="fill: none; stroke: #000000; stroke-width: 0.8; stroke-linecap: square"/>
   </g>
   <g id="bxtick_1">
    <g id="bline2d_2">
     <path d="M 171.218781 304.915733 
L 168.392318 307.328814 
" style="fill: none; stroke: #000000; stroke-width: 0.8; stroke-linecap: square"/>
    </g>
    <g id="bxtl0">
     <text style="font-size: 10px; font-family: 'Liberation Sans'; text-anchor: middle" x="165.706827" y="322.53215" transform="rotate(-0 165.706827 322.53215)">1</text>
    </g>
   </g>
   <g id="bxtick_2">
    <g id="bline2d_3">
     <path d="M 187.101808 310.098004 
L 184.296569 312.533438 
" style="fill: none; stroke: #000000; stroke-width: 0.8; stroke-linecap: square"/>
    </g>
    <g id="bxtl1">
     <text style="font-size: 10px; font-family: 'Liberation Sans'; text-anchor: middle" x="181.604902" y="327.775644" transform="rotate(-0 181.604902 327.775644)">2</text>
    </g>
   </g>
   <g id="bxtick_3">
    <g id="bline2d_4">
     <path d="M 203.132155 315.328341 
L 200.348655 317.786442 
" style="fill: none; stroke: #000000; stroke-width: 0.8; stroke-linecap: square"/>
    </g>
    <g id="bxtl2">
     <text style="font-size: 10px; font-family: 'Liberation Sans'; text-anchor: middle" x="197.650815" y="333.067898" transform="rotate(-0 197.650815 333.067898)">3</text>
    </g>
   </g>
   <g id="bxtick_4">
    <g id="bline2d_5">
     <path d="M 219.31188 320.607417 
L 216.550648 323.088502 
" style="fill: none; stroke: #000000; stroke-width: 0.8; stroke-linecap: square"/>
    </g>
    <g id="bxtl3">
     <text style="font-size: 10px; font-family: 'Liberation Sans'; text-anchor: middle" x="213.846636" y="338.409594" transform="rotate(-0 213.846636 338.409594)">4</text>
    </g>
   </g>
   <g id="bxtick_5">
    <g id="bline2d_6">
     <path d="M 235.643081 325.935917 
L 232.904658 328.44031 
" style="fill: none; stroke: #000000; stroke-width: 0.8; stroke-linecap: square"/>
    </g>
    <g id="bxtl4">
     <text style="font-size: 10px; font-family: 'Liberation Sans'; text-anchor: middle" x="230.194477" y="343.801429" transform="rotate(-0 230.194477 343.801429)">5</text>
    </g>
   </g>
   <g id="bxtick_6">
    <g id="bline2d_7">
     <path d="M 252.127895 331.314536 
L 249.412834 333.842568 
" style="fill: none; stroke: #000000; stroke-width: 0.8; stroke-linecap: square"/>
    </g>
    <g id="bxtl5">
     <text style="font-size: 10px; font-family: 'Liberation Sans'; text-anchor: middle" x="246.696487" y="349.244112" transform="rotate(-0 246.696487 349.244112)">6</text>
    </g>
   </g>
   <g id="bxtick_7">
    <g id="bline2d_8">
     <path d="M 268.7685 336.743987 
L 266.077367 339.295993 
" style="fill: none; stroke: #000000; stroke-width: 0.8; stroke-linecap: square"/>
    </g>
    <g id="bxtl6">
     <text style="font-size: 10px; font-family: 'Liberation Sans'; text-anchor: middle" x="263.354859" y="354.738366" transform="rotate(-0 263.354859 354.738366)">7</text>
    </g>
   </g>
   <g id="bxtick_8">
    <g id="bline2d_9">
     <path d="M 285.567115 342.224993 
L 282.900488 344.801316 
" style="fill: none; stroke: #000000; stroke-width: 0.8; stroke-linecap: square"/>
    </g>
    <g id="bxtl7">
     <text style="font-size: 10px; font-family: 'Liberation Sans'; text-anchor: middle" x="280.171825" y="360.284928" transform="rotate(-0 280.171825 360.284928)">8</text>
    </g>
   </g>
   <g id="bxtick_9">
    <g id="bline2d_10">
     <path d="M 302.526001 347.758292 
L 299.884473 350.359281 
" style="fill: none; stroke: #000000; stroke-width: 0.8; stroke-linecap: square"/>
    </g>
    <g id="bxtl8">
     <text style="font-size: 10px; font-family: 'Liberation Sans'; text-anchor: middle" x="297.14966" y="365.884547" transform="rotate(-0 297.14966 365.884547)">9</text>
    </g>
   </g>
   <g id="bxtick_10">
    <g id="bline2d_11">
     <path d="M 319.647463 353.344636 
L 317.031639 355.970646 
" style="fill: none; stroke: #000000; stroke-width: 0.8; stroke-linecap: square"/>
    </g>
    <g id="bxtl9">
     <text style="font-size: 10px; font-family: 'Liberation Sans'; text-anchor: middle" x="314.290684" y="371.53799" transform="rotate(-0 314.290684 371.53799)">10</text>
    </g>
   </g>
   <g id="bxlab">
    <text style="font-size: 9.8px; font-family: 'Liberation Sans'; text-anchor: middle" x="230.091044" y="358.020936" transform="rotate(-341.912962 230.091044 358.020936)">Folds/Runs</text>
   </g>
  </g>
  <g id="baxis3d_2">
   <g id="bline2d_12">
    <path d="M 436.517299 259.481048 
L 338.064366 360.517977 
" style="fill: none; stroke: #000000; stroke-width: 0.8; stroke-linecap: square"/>
   </g>
   <g id="bxtick_11">
    <g id="bline2d_13">
     <path d="M 343.320661 353.022819 
L 347.992343 354.536678 
" style="fill: none; stroke: #000000; stroke-width: 0.8; stroke-linecap: square"/>
    </g>
    <g id="bytl0">
     <text style="font-size: 10px; font-family: 'Liberation Sans'; text-anchor: middle" x="352.714544" y="368.942089" transform="rotate(-0 352.714544 368.942089)">GD</text>
    </g>
   </g>
   <g id="bxtick_12">
    <g id="bline2d_14">
     <path d="M 366.096631 329.69094 
L 370.703955 331.145023 
" style="fill: none; stroke: #000000; stroke-width: 0.8; stroke-linecap: square"/>
    </g>
    <g id="bytl1">
     <text style="font-size: 10px; font-family: 'Liberation Sans'; text-anchor: middle" x="375.319343" y="345.420682" transform="rotate(-0 375.319343 345.420682)">SGD</text>
    </g>
   </g>
   <g id="bxtick_13">
    <g id="bline2d_15">
     <path d="M 387.982519 307.270869 
L 392.526897 308.668647 
" style="fill: none; stroke: #000000; stroke-width: 0.8; stroke-linecap: square"/>
    </g>
    <g id="bytl2">
     <text style="font-size: 10px; font-family: 'Liberation Sans'; text-anchor: middle" x="397.040134" y="322.819129" transform="rotate(-0 397.040134 322.819129)">ADAM</text>
    </g>
   </g>
   <g id="bxtick_14">
    <g id="bline2d_16">
     <path d="M 409.029501 285.710179 
L 413.512328 287.05486 
" style="fill: none; stroke: #000000; stroke-width: 0.8; stroke-linecap: square"/>
    </g>
    <g id="bytl3">
     <text style="font-size: 10px; font-family: 'Liberation Sans'; text-anchor: middle" x="417.927779" y="301.084504" transform="rotate(-0 417.927779 301.084504)">LM</text>
    </g>
   </g>
   <g id="bxtick_15">
    <g id="bline2d_17">
     <path d="M 429.284905 264.960388 
L 433.70755 266.254941 
" style="fill: none; stroke: #000000; stroke-width: 0.8; stroke-linecap: square"/>
    </g>
    <g id="bytl4">
     <text style="font-size: 10px; font-family: 'Liberation Sans'; text-anchor: middle" x="438.029312" y="280.167869" transform="rotate(-0 438.029312 280.167869)">BRA</text>
    </g>
   </g>
   <g id="bylab">
    <text style="font-size: 9.8px; font-family: 'Liberation Sans'; text-anchor: middle" x="414.495733" y="333.586335" transform="rotate(-45.742112 414.495733 333.586335)">Algorithms</text>
   </g>
  </g>
  <g id="baxis3d_3">
   <g id="bline2d_18">
    <path d="M 436.517299 259.481048 
L 442.756284 123.237575 
" style="fill: none; stroke: #000000; stroke-width: 0.8; stroke-linecap: square"/>
   </g>
   <g id="bxtick_16">
    <g id="bline2d_19">
     <path d="M 435.168239 256.44496 
L 439.577512 257.723415 
" style="fill: none; stroke: #000000; stroke-width: 0.8; stroke-linecap: square"/>
    </g>
    <g id="bztl0" transform="translate(0 1.2)">
     <text style="font-size: 10px; font-family: 'Liberation Sans'; text-anchor: middle" x="447.771035" y="262.532065" transform="rotate(-0 447.771035 262.532065)">0.94</text>
    </g>
   </g>
   <g id="bxtick_17">
    <g id="bline2d_20">
     <path d="M 436.1214 235.405802 
L 440.562323 236.667888 
" style="fill: none; stroke: #000000; stroke-width: 0.8; stroke-linecap: square"/>
    </g>
    <g id="bztl1" transform="translate(0 1.2)">
     <text style="font-size: 10px; font-family: 'Liberation Sans'; text-anchor: middle" x="448.810161" y="241.507773" transform="rotate(-0 448.810161 241.507773)">0.95</text>
    </g>
   </g>
   <g id="bxtick_18">
    <g id="bline2d_21">
     <path d="M 437.087826 214.073821 
L 441.560857 215.318958 
" style="fill: none; stroke: #000000; stroke-width: 0.8; stroke-linecap: square"/>
    </g>
    <g id="bztl2" transform="translate(0 1.2)">
     <text style="font-size: 10px; font-family: 'Liberation Sans'; text-anchor: middle" x="449.863733" y="220.191187" transform="rotate(-0 449.863733 220.191187)">0.96</text>
    </g>
   </g>
   <g id="bxtick_19">
    <g id="bline2d_22">
     <path d="M 438.067797 192.442863 
L 442.573402 193.670448 
" style="fill: none; stroke: #000000; stroke-width: 0.8; stroke-linecap: square"/>
    </g>
    <g id="bztl3" transform="translate(0 1.2)">
     <text style="font-size: 10px; font-family: 'Liberation Sans'; text-anchor: middle" x="450.932056" y="198.576167" transform="rotate(-0 450.932056 198.576167)">0.97</text>
    </g>
   </g>
   <g id="bxtick_20">
    <g id="bline2d_23">
     <path d="M 439.0616 170.506596 
L 443.600257 171.71601 
" style="fill: none; stroke: #000000; stroke-width: 0.8; stroke-linecap: square"/>
    </g>
    <g id="bztl4" transform="translate(0 1.2)">
     <text style="font-size: 10px; font-family: 'Liberation Sans'; text-anchor: middle" x="452.01544" y="176.656403" transform="rotate(-0 452.01544 176.656403)">0.98</text>
    </g>
   </g>
   <g id="bxtick_21">
    <g id="bline2d_24">
     <path d="M 440.069529 148.258512 
L 444.641727 149.44911 
" style="fill: none; stroke: #000000; stroke-width: 0.8; stroke-linecap: square"/>
    </g>
    <g id="bztl5" transform="translate(0 1.2)">
     <text style="font-size: 10px; font-family: 'Liberation Sans'; text-anchor: middle" x="453.114207" y="154.425405" transform="rotate(-0 453.114207 154.425405)">0.99</text>
    </g>
   </g>
   <g id="bxtick_22">
    <g id="bline2d_25">
     <path d="M 441.091888 125.691914 
L 445.698125 126.863031 
" style="fill: none; stroke: #000000; stroke-width: 0.8; stroke-linecap: square"/>
    </g>
    <g id="bztl6" transform="translate(0 1.2)">
     <text style="font-size: 10px; font-family: 'Liberation Sans'; text-anchor: middle" x="454.228687" y="131.876495" transform="rotate(-0 454.228687 131.876495)">1.00</text>
    </g>
   </g>
   <g id="bzlab" transform="translate(0 1.0)">
    <text style="font-size: 9.8px; font-family: 'Liberation Sans'; text-anchor: middle" x="470.33307" y="191.264268" transform="rotate(-0 470.33307 191.264268)">R²</text>
   </g>
  </g>
  <g id="baxes_1">
   <g id="bpatch_6">
    <path d="M 265.932633 214.610533 
L 277.96352 218.123471 
L 277.192214 94.81959 
L 264.684521 91.601478 
L 265.932633 214.610533 
" clip-path="url(#bpff52f24044)" style="fill: #c44e52; stroke: #ffffff; stroke-width: 0.8; stroke-linejoin: miter"/>
   </g>
   <g id="bpatch_7">
    <path d="M 280.984046 219.005444 
L 293.117765 222.548408 
L 292.952385 99.250704 
L 280.334963 96.003027 
L 280.984046 219.005444 
" clip-path="url(#bpff52f24044)" style="fill: #c44e52; stroke: #ffffff; stroke-width: 0.8; stroke-linejoin: miter"/>
   </g>
   <g id="bpatch_8">
    <path d="M 296.164165 223.437936 
L 308.402041 227.011313 
L 308.854405 102.365683 
L 296.120425 99.091485 
L 296.164165 223.437936 
" clip-path="url(#bpff52f24044)" style="fill: #c44e52; stroke: #ffffff; stroke-width: 0.8; stroke-linejoin: miter"/>
   </g>
   <g id="bpatch_9">
    <path d="M 311.474647 227.908493 
L 323.818026 231.512677 
L 324.889751 107.716801 
L 312.046466 104.41011 
L 311.474647 227.908493 
" clip-path="url(#bpff52f24044)" style="fill: #c44e52; stroke: #ffffff; stroke-width: 0.8; stroke-linejoin: miter"/>
   </g>
   <g id="bpatch_10">
    <path d="M 326.917178 232.417608 
L 339.367432 236.052998 
L 341.082879 111.235634 
L 328.121228 107.900802 
L 326.917178 232.417608 
" clip-path="url(#bpff52f24044)" style="fill: #c44e52; stroke: #ffffff; stroke-width: 0.8; stroke-linejoin: miter"/>
   </g>
   <g id="bpatch_11">
    <path d="M 243.579321 233.521583 
L 255.753899 237.164634 
L 254.097288 114.848109 
L 241.444329 111.499362 
L 243.579321 233.521583 
" clip-path="url(#bpff52f24044)" style="fill: #4c72b0; stroke: #ffffff; stroke-width: 0.8; stroke-linejoin: miter"/>
   </g>
   <g id="bpatch_12">
    <path d="M 342.493476 236.965782 
L 355.051998 240.632785 
L 357.402905 116.177871 
L 344.327002 112.810965 
L 342.493476 236.965782 
" clip-path="url(#bpff52f24044)" style="fill: #c44e52; stroke: #ffffff; stroke-width: 0.8; stroke-linejoin: miter"/>
   </g>
   <g id="bpatch_13">
    <path d="M 258.81074 238.079345 
L 271.091302 241.75411 
L 270.033885 118.082111 
L 257.262448 114.705556 
L 258.81074 238.079345 
" clip-path="url(#bpff52f24044)" style="fill: #4c72b0; stroke: #ffffff; stroke-width: 0.8; stroke-linejoin: miter"/>
   </g>
   <g id="bpatch_14">
    <path d="M 358.205285 241.553524 
L 370.873493 245.252555 
L 373.903674 119.498837 
L 360.705006 116.103681 
L 358.205285 241.553524 
" clip-path="url(#bpff52f24044)" style="fill: #c44e52; stroke: #ffffff; stroke-width: 0.8; stroke-linejoin: miter"/>
   </g>
   <g id="bpatch_15">
    <path d="M 274.174811 242.676801 
L 286.562746 246.383695 
L 286.124915 121.212525 
L 273.232746 117.808127 
L 274.174811 242.676801 
" clip-path="url(#bpff52f24044)" style="fill: #4c72b0; stroke: #ffffff; stroke-width: 0.8; stroke-linejoin: miter"/>
   </g>
   <g id="bpatch_16">
    <path d="M 374.054382 246.181353 
L 386.833719 249.912833 
L 390.489238 125.424323 
L 377.177052 121.993932 
L 374.054382 246.181353 
" clip-path="url(#bpff52f24044)" style="fill: #c44e52; stroke: #ffffff; stroke-width: 0.8; stroke-linejoin: miter"/>
   </g>
   <g id="bpatch_17">
    <path d="M 289.673274 247.314472 
L 302.169996 251.053919 
L 302.373591 124.938507 
L 289.361235 121.504429 
L 289.673274 247.314472 
" clip-path="url(#bpff52f24044)" style="fill: #4c72b0; stroke: #ffffff; stroke-width: 0.8; stroke-linejoin: miter"/>
   </g>
   <g id="bpatch_18">
    <path d="M 390.042573 250.849797 
L 402.934509 254.614155 
L 407.311522 128.457952 
L 393.871625 124.999407 
L 390.042573 250.849797 
" clip-path="url(#bpff52f24044)" style="fill: #c44e52; stroke: #ffffff; stroke-width: 0.8; stroke-linejoin: miter"/>
   </g>
   <g id="bpatch_19">
    <path d="M 220.391743 253.138426 
L 232.712451 256.918955 
L 230.129332 135.081284 
L 217.326717 131.595703 
L 220.391743 253.138426 
" clip-path="url(#bpff52f24044)" style="fill: #55a868; stroke: #ffffff; stroke-width: 0.8; stroke-linejoin: miter"/>
   </g>
   <g id="bpatch_20">
    <path d="M 305.3079 251.992887 
L 317.914849 255.765318 
L 318.776845 128.768037 
L 305.642876 125.303691 
L 305.3079 251.992887 
" clip-path="url(#bpff52f24044)" style="fill: #4c72b0; stroke: #ffffff; stroke-width: 0.8; stroke-linejoin: miter"/>
   </g>
   <g id="bpatch_21">
    <path d="M 406.171698 255.559392 
L 419.177727 259.357065 
L 424.256173 132.680722 
L 410.691781 129.190646 
L 406.171698 255.559392 
" clip-path="url(#bpff52f24044)" style="fill: #c44e52; stroke: #ffffff; stroke-width: 0.8; stroke-linejoin: miter"/>
   </g>
   <g id="bpatch_22">
    <path d="M 235.806232 257.868262 
L 248.236213 261.682321 
L 246.298318 141.514314 
L 233.385772 137.991345 
L 235.806232 257.868262 
" clip-path="url(#bpff52f24044)" style="fill: #55a868; stroke: #ffffff; stroke-width: 0.8; stroke-linejoin: miter"/>
   </g>
   <g id="bpatch_23">
    <path d="M 321.080492 256.712587 
L 333.799131 260.518439 
L 335.327357 133.40726 
L 322.073299 129.910233 
L 321.080492 256.712587 
" clip-path="url(#bpff52f24044)" style="fill: #4c72b0; stroke: #ffffff; stroke-width: 0.8; stroke-linejoin: miter"/>
   </g>
   <g id="bpatch_24">
    <path d="M 336.992883 261.474119 
L 349.824705 265.313839 
L 352.034712 137.723776 
L 338.65736 134.194557 
L 336.992883 261.474119 
" clip-path="url(#bpff52f24044)" style="fill: #4c72b0; stroke: #ffffff; stroke-width: 0.8; stroke-linejoin: miter"/>
   </g>
   <g id="bpatch_25">
    <path d="M 251.357495 262.640066 
L 263.898209 266.488102 
L 262.520716 141.152713 
L 249.468998 137.609465 
L 251.357495 262.640066 
" clip-path="url(#bpff52f24044)" style="fill: #55a868; stroke: #ffffff; stroke-width: 0.8; stroke-linejoin: miter"/>
   </g>
   <g id="bpatch_26">
    <path d="M 267.047359 267.454398 
L 279.700293 271.336869 
L 279.011924 152.486819 
L 265.866986 148.892863 
L 267.047359 267.454398 
" clip-path="url(#bpff52f24044)" style="fill: #55a868; stroke: #ffffff; stroke-width: 0.8; stroke-linejoin: miter"/>
   </g>
   <g id="bpatch_27">
    <path d="M 353.04694 266.278043 
L 365.993462 270.152085 
L 368.862819 143.658959 
L 355.367296 140.093016 
L 353.04694 266.278043 
" clip-path="url(#bpff52f24044)" style="fill: #4c72b0; stroke: #ffffff; stroke-width: 0.8; stroke-linejoin: miter"/>
   </g>
   <g id="bpatch_28">
    <path d="M 196.322308 273.501327 
L 208.791549 277.427265 
L 205.307175 158.332366 
L 192.361564 154.696053 
L 196.322308 273.501327 
" clip-path="url(#bpff52f24044)" style="fill: #64b5cd; stroke: #ffffff; stroke-width: 0.8; stroke-linejoin: miter"/>
   </g>
   <g id="bpatch_29">
    <path d="M 282.877686 272.311831 
L 295.644352 276.2292 
L 295.578812 152.510953 
L 282.292122 148.895031 
L 282.877686 272.311831 
" clip-path="url(#bpff52f24044)" style="fill: #55a868; stroke: #ffffff; stroke-width: 0.8; stroke-linejoin: miter"/>
   </g>
   <g id="bpatch_30">
    <path d="M 369.244565 271.124926 
L 382.307331 275.033753 
L 385.912254 146.800126 
L 372.284504 143.204329 
L 369.244565 271.124926 
" clip-path="url(#bpff52f24044)" style="fill: #4c72b0; stroke: #ffffff; stroke-width: 0.8; stroke-linejoin: miter"/>
   </g>
   <g id="bpatch_31">
    <path d="M 171.319733 294.65367 
L 183.939864 298.733572 
L 181.516794 234.534343 
L 168.636832 230.607125 
L 171.319733 294.65367 
" clip-path="url(#bpff52f24044)" style="fill: #ccb974; stroke: #ffffff; stroke-width: 0.8; stroke-linejoin: miter"/>
   </g>
   <g id="bpatch_32">
    <path d="M 298.85037 277.212946 
L 311.73231 281.165685 
L 312.329607 156.655373 
L 298.91625 153.006531 
L 298.85037 277.212946 
" clip-path="url(#bpff52f24044)" style="fill: #55a868; stroke: #ffffff; stroke-width: 0.8; stroke-linejoin: miter"/>
   </g>
   <g id="bpatch_33">
    <path d="M 385.587691 276.015349 
L 398.768275 279.959431 
L 403.091042 151.332895 
L 389.335143 147.703284 
L 385.587691 276.015349 
" clip-path="url(#bpff52f24044)" style="fill: #4c72b0; stroke: #ffffff; stroke-width: 0.8; stroke-linejoin: miter"/>
   </g>
   <g id="bpatch_34">
    <path d="M 211.922891 278.413168 
L 224.504844 282.374594 
L 221.566809 160.460806 
L 208.489582 156.796658 
L 211.922891 278.413168 
" clip-path="url(#bpff52f24044)" style="fill: #64b5cd; stroke: #ffffff; stroke-width: 0.8; stroke-linejoin: miter"/>
   </g>
   <g id="bpatch_35">
    <path d="M 314.967341 282.158334 
L 327.966123 286.146925 
L 329.190443 165.998636 
L 315.670943 162.30305 
L 314.967341 282.158334 
" clip-path="url(#bpff52f24044)" style="fill: #55a868; stroke: #ffffff; stroke-width: 0.8; stroke-linejoin: miter"/>
   </g>
   <g id="bpatch_36">
    <path d="M 331.230563 287.148598 
L 344.347784 291.173531 
L 346.09314 179.650485 
L 332.485114 175.896709 
L 331.230563 287.148598 
" clip-path="url(#bpff52f24044)" style="fill: #55a868; stroke: #ffffff; stroke-width: 0.8; stroke-linejoin: miter"/>
   </g>
   <g id="bpatch_37">
    <path d="M 227.664554 283.369428 
L 240.360754 287.366825 
L 238.001357 162.381933 
L 224.789441 158.690156 
L 227.664554 283.369428 
" clip-path="url(#bpff52f24044)" style="fill: #64b5cd; stroke: #ffffff; stroke-width: 0.8; stroke-linejoin: miter"/>
   </g>
   <g id="bpatch_38">
    <path d="M 347.642035 292.184351 
L 360.879321 296.246126 
L 363.097738 191.498902 
L 349.392334 187.691258 
L 347.642035 292.184351 
" clip-path="url(#bpff52f24044)" style="fill: #55a868; stroke: #ffffff; stroke-width: 0.8; stroke-linejoin: miter"/>
   </g>
   <g id="bpatch_39">
    <path d="M 187.109375 299.758228 
L 199.845813 303.87573 
L 196.797893 210.094458 
L 183.675947 206.203615 
L 187.109375 299.758228 
" clip-path="url(#bpff52f24044)" style="fill: #ccb974; stroke: #ffffff; stroke-width: 0.8; stroke-linejoin: miter"/>
   </g>
   <g id="bpatch_40">
    <path d="M 243.549221 288.370713 
L 256.36123 292.404572 
L 254.623087 164.510195 
L 241.275053 160.789914 
L 243.549221 288.370713 
" clip-path="url(#bpff52f24044)" style="fill: #64b5cd; stroke: #ffffff; stroke-width: 0.8; stroke-linejoin: miter"/>
   </g>
   <g id="bpatch_41">
    <path d="M 364.203794 297.266219 
L 377.5628 301.365343 
L 380.50372 191.53583 
L 366.646242 187.704157 
L 364.203794 297.266219 
" clip-path="url(#bpff52f24044)" style="fill: #55a868; stroke: #ffffff; stroke-width: 0.8; stroke-linejoin: miter"/>
   </g>
   <g id="bpatch_42">
    <path d="M 259.578847 293.417639 
L 272.508258 297.488462 
L 271.452886 169.363387 
L 257.978005 165.607133 
L 259.578847 293.417639 
" clip-path="url(#bpff52f24044)" style="fill: #64b5cd; stroke: #ffffff; stroke-width: 0.8; stroke-linejoin: miter"/>
   </g>
   <g id="bpatch_43">
    <path d="M 251.744197 320.65371 
L 264.962316 324.926932 
L 264.369179 270.253399 
L 250.911396 266.110177 
L 251.744197 320.65371 
" clip-path="url(#bpff52f24044)" style="fill: #ccb974; stroke: #ffffff; stroke-width: 0.8; stroke-linejoin: miter"/>
   </g>
   <g id="bpatch_44">
    <path d="M 203.044601 304.909851 
L 215.89896 309.065475 
L 213.208307 210.111106 
L 199.940648 206.195531 
L 203.044601 304.909851 
" clip-path="url(#bpff52f24044)" style="fill: #ccb974; stroke: #ffffff; stroke-width: 0.8; stroke-linejoin: miter"/>
   </g>
   <g id="bpatch_45">
    <path d="M 308.557608 308.838594 
L 321.849073 313.02341 
L 322.650983 215.637649 
L 308.924878 211.689078 
L 308.557608 308.838594 
" clip-path="url(#bpff52f24044)" style="fill: #64b5cd; stroke: #ffffff; stroke-width: 0.8; stroke-linejoin: miter"/>
   </g>
   <g id="bpatch_46">
    <path d="M 275.755428 298.510833 
L 288.803862 302.61913 
L 288.443071 174.496016 
L 274.84054 170.702663 
L 275.755428 298.510833 
" clip-path="url(#bpff52f24044)" style="fill: #64b5cd; stroke: #ffffff; stroke-width: 0.8; stroke-linejoin: miter"/>
   </g>
   <g id="bpatch_47">
    <path d="M 219.127433 310.109193 
L 232.101359 314.303471 
L 229.938782 215.163194 
L 216.544097 211.209693 
L 219.127433 310.109193 
" clip-path="url(#bpff52f24044)" style="fill: #ccb974; stroke: #ffffff; stroke-width: 0.8; stroke-linejoin: miter"/>
   </g>
   <g id="bpatch_48">
    <path d="M 292.080992 303.650934 
L 305.2501 307.797226 
L 305.581826 183.744252 
L 291.867709 179.902638 
L 292.080992 303.650934 
" clip-path="url(#bpff52f24044)" style="fill: #64b5cd; stroke: #ffffff; stroke-width: 0.8; stroke-linejoin: miter"/>
   </g>
   <g id="bpatch_49">
    <path d="M 235.359932 315.356919 
L 248.4551 319.590394 
L 246.669211 210.47099 
L 233.103467 206.504154 
L 235.359932 315.356919 
" clip-path="url(#bpff52f24044)" style="fill: #ccb974; stroke: #ffffff; stroke-width: 0.8; stroke-linejoin: miter"/>
   </g>
   <g id="bpatch_50">
    <path d="M 325.187382 314.074476 
L 338.602916 318.298355 
L 340.305371 195.52205 
L 326.333128 191.600191 
L 325.187382 314.074476 
" clip-path="url(#bpff52f24044)" style="fill: #64b5cd; stroke: #ffffff; stroke-width: 0.8; stroke-linejoin: miter"/>
   </g>
   <g id="bpatch_51">
    <path d="M 341.97246 319.359256 
L 355.513808 323.622747 
L 357.881293 202.655586 
L 343.782676 198.689704 
L 341.97246 319.359256 
" clip-path="url(#bpff52f24044)" style="fill: #64b5cd; stroke: #ffffff; stroke-width: 0.8; stroke-linejoin: miter"/>
   </g>
   <g id="bpatch_52">
    <path d="M 268.282366 326.000256 
L 281.625175 330.313788 
L 281.036827 218.437118 
L 267.195743 214.39789 
L 268.282366 326.000256 
" clip-path="url(#bpff52f24044)" style="fill: #ccb974; stroke: #ffffff; stroke-width: 0.8; stroke-linejoin: miter"/>
   </g>
   <g id="bpatch_53">
    <path d="M 284.976618 331.39726 
L 298.44589 335.751677 
L 298.491336 223.389593 
L 284.51346 219.310999 
L 284.976618 331.39726 
" clip-path="url(#bpff52f24044)" style="fill: #ccb974; stroke: #ffffff; stroke-width: 0.8; stroke-linejoin: miter"/>
   </g>
   <g id="bpatch_54">
    <path d="M 301.829173 336.845442 
L 315.426714 341.241326 
L 316.119787 228.415082 
L 302.003184 224.296475 
L 301.829173 336.845442 
" clip-path="url(#bpff52f24044)" style="fill: #ccb974; stroke: #ffffff; stroke-width: 0.8; stroke-linejoin: miter"/>
   </g>
   <g id="bpatch_55">
    <path d="M 318.842293 342.345533 
L 332.569945 346.783479 
L 333.919001 233.964758 
L 319.663805 229.804304 
L 318.842293 342.345533 
" clip-path="url(#bpff52f24044)" style="fill: #ccb974; stroke: #ffffff; stroke-width: 0.8; stroke-linejoin: miter"/>
   </g>
  </g>
 </g>
 <defs>
  <clipPath id="bpff52f24044">
   <rect x="127.827057" y="51.41647" width="329.922348" height="329.922348"/>
  </clipPath>
 </defs>
</svg>

<div class="cap" style="left:98.6px;top:299.9px">(a) Infilled frames</div>
<div class="cap" style="left:463.2px;top:299.9px">(b) Bare frames</div>
</body></html>
